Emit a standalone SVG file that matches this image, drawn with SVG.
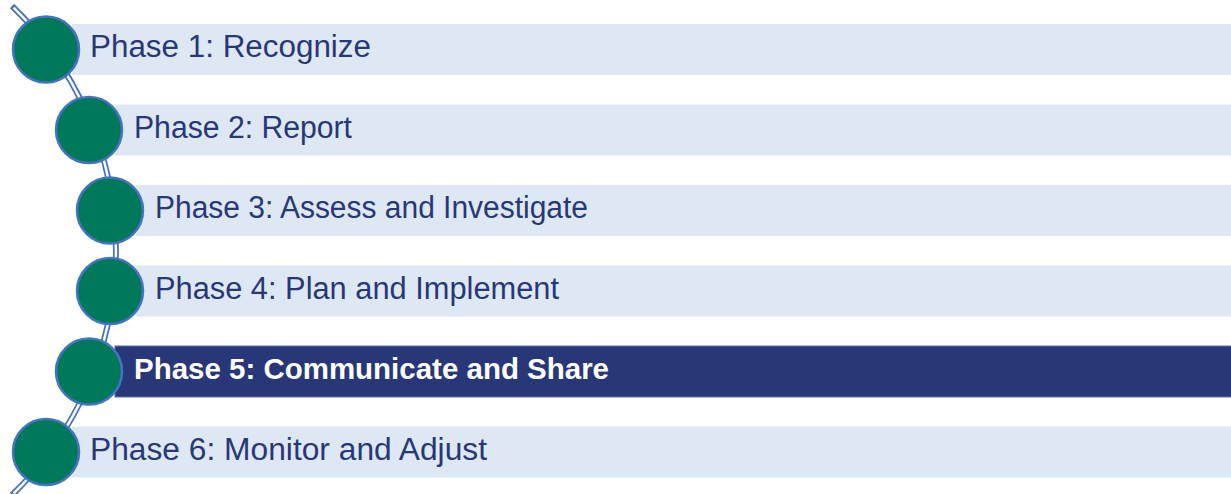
<svg xmlns="http://www.w3.org/2000/svg" width="1231" height="494" viewBox="0 0 1231 494">
  <style>
    .bar { fill: #DEE8F4; }
    .bar.active { fill: #283778; stroke: #5E6DA8; stroke-width: 1; }
    .dot { fill: #00785A; stroke: #4472C4; stroke-width: 2.5; }
    .label { font-family: "Liberation Sans", Arial, sans-serif; font-size: 31px; fill: #283778; }
    .label.active { font-weight: bold; fill: #FFFFFF; font-size: 30px; }
    .rail-outer { fill: none; stroke: #4472C4; stroke-width: 6; }
    .rail-inner { fill: none; stroke: #FFFFFF; stroke-width: 2.5; }
  </style>

  <!-- curved rail linking the phase markers -->
  <g id="connectors">
    <path class="rail-outer" d="M 12 6 A 339.5 339.5 0 0 1 12 495"/>
    <path class="rail-inner" d="M 13.6 7.6 A 339.5 339.5 0 0 1 13.6 493.4"/>
  </g>

  <g id="phase1">
    <rect class="bar" x="72" y="24" width="1159" height="51"/>
    <circle class="dot" cx="46" cy="49.5" r="33"/>
    <text class="label" x="90" y="57" textLength="281" lengthAdjust="spacingAndGlyphs">Phase 1: Recognize</text>
  </g>

  <g id="phase2">
    <rect class="bar" x="115" y="104.5" width="1116" height="51"/>
    <circle class="dot" cx="89" cy="130" r="33"/>
    <text class="label" x="134" y="137.5" textLength="218" lengthAdjust="spacingAndGlyphs">Phase 2: Report</text>
  </g>

  <g id="phase3">
    <rect class="bar" x="136" y="185" width="1095" height="51"/>
    <circle class="dot" cx="110" cy="210.5" r="33"/>
    <text class="label" x="155" y="218" textLength="433" lengthAdjust="spacingAndGlyphs">Phase 3: Assess and Investigate</text>
  </g>

  <g id="phase4">
    <rect class="bar" x="136" y="265.5" width="1095" height="51"/>
    <circle class="dot" cx="110" cy="291" r="33"/>
    <text class="label" x="155" y="298.5" textLength="404" lengthAdjust="spacingAndGlyphs">Phase 4: Plan and Implement</text>
  </g>

  <g id="phase5">
    <rect class="bar active" x="115" y="346" width="1117" height="51"/>
    <circle class="dot" cx="89" cy="371.5" r="33"/>
    <text class="label active" x="134" y="379" textLength="475" lengthAdjust="spacingAndGlyphs">Phase 5: Communicate and Share</text>
  </g>

  <g id="phase6">
    <rect class="bar" x="72" y="426.5" width="1159" height="51"/>
    <circle class="dot" cx="46" cy="452" r="33"/>
    <text class="label" x="90" y="459.5" textLength="397" lengthAdjust="spacingAndGlyphs">Phase 6: Monitor and Adjust</text>
  </g>
</svg>
